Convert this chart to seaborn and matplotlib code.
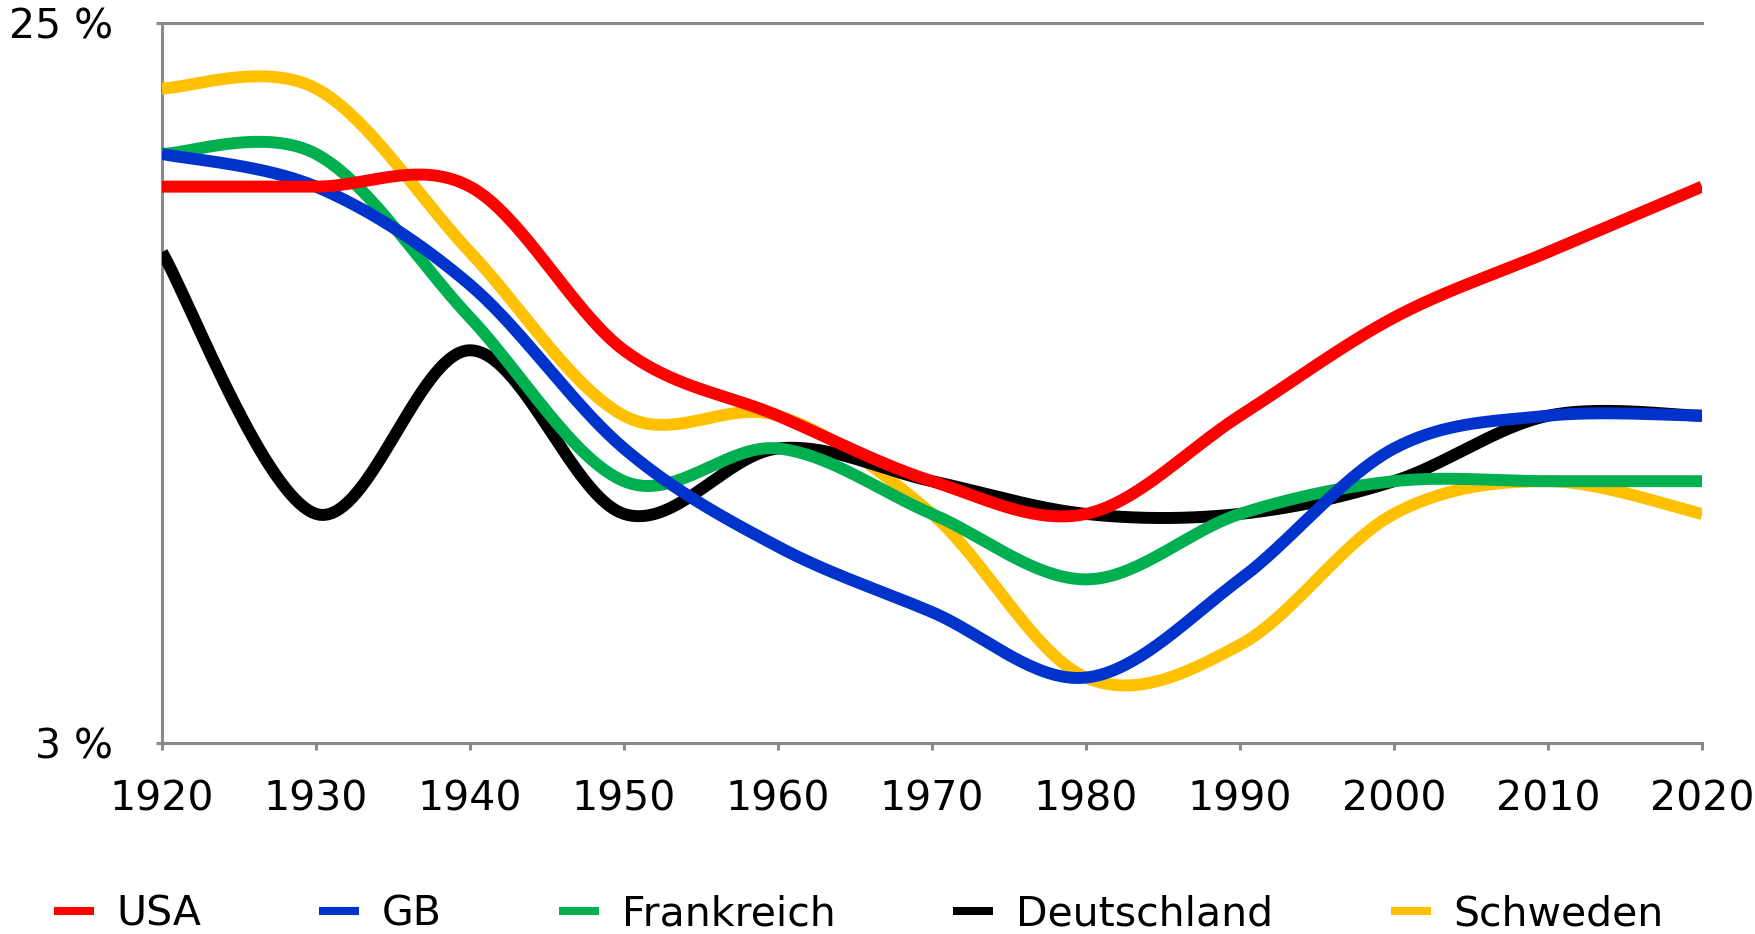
import numpy as np
import pandas as pd
import seaborn as sns
import matplotlib.pyplot as plt
from matplotlib.lines import Line2D

# values (percent)
years = [1920, 1930, 1940, 1950, 1960, 1970, 1980, 1990, 2000, 2010, 2020]
usa = [20, 20, 20, 15, 13, 11, 10, 13, 16, 18, 20]
gb = [21, 20, 17, 12, 9, 7, 5, 8, 12, 13, 13]
frankreich = [21, 21, 16, 11, 12, 10, 8, 10, 11, 11, 11]
deutschland = [18, 10, 15, 10, 12, 11, 10, 10, 11, 13, 13]
schweden = [23, 23, 18, 13, 13, 10, 5, 6, 10, 11, 10]

names = ['USA', 'GB', 'Frankreich', 'Deutschland', 'Schweden']
series = [usa, gb, frankreich, deutschland, schweden]
colors = ['#FF0000', '#0033CC', '#00B050', '#000000', '#FFC000']

y_ticks = [3, 25]
y_labels = ['3 %', '25 %']


def smooth(xs, ys, n=40):
    # Excel-style smoothed line: cubic Bezier per segment, tangents from neighbours
    p = np.column_stack([xs, ys]).astype(float)
    out = []
    for i in range(len(p) - 1):
        p0 = p[i - 1] if i > 0 else p[i]
        p1, p2 = p[i], p[i + 1]
        p3 = p[i + 2] if i + 2 < len(p) else p[i + 1]
        c1 = p1 + (p2 - p0) / 6
        c2 = p2 - (p3 - p1) / 6
        t = np.linspace(0, 1, n)[:, None]
        seg = ((1 - t) ** 3) * p1 + 3 * ((1 - t) ** 2) * t * c1 + 3 * (1 - t) * t ** 2 * c2 + t ** 3 * p2
        out.append(seg if i == 0 else seg[1:])
    out = np.vstack(out)
    return out[:, 0], out[:, 1]


sns.set_style('white')
plt.rcParams['font.family'] = ['DejaVu Sans']
plt.rcParams['text.color'] = 'black'
plt.rcParams['xtick.labelcolor'] = 'black'
plt.rcParams['ytick.labelcolor'] = 'black'

fig = plt.figure(figsize=(17.56, 9.34), dpi=100)
ax = fig.add_axes([162 / 1756, 1 - 743 / 934, 1540 / 1756, 720 / 934])

n = len(names)
for k, (name, vals, col) in enumerate(zip(names, series, colors)):
    sx, sy = smooth(years, vals)
    df = pd.DataFrame({'Jahr': sx, 'Anteil': sy})
    sns.lineplot(data=df, x='Jahr', y='Anteil', sort=False, estimator=None,
                 color=col, linewidth=8.6, ax=ax, zorder=10 + n - k,
                 solid_capstyle='butt', solid_joinstyle='round')

ax.set_xlim(1920, 2020)
ax.set_ylim(3, 25)
ax.set_xticks(years)
ax.set_yticks(y_ticks)
ax.set_yticklabels(y_labels)
ax.set_xlabel('')
ax.set_ylabel('')

grey = '#898989'
for side in ['left', 'bottom', 'top']:
    ax.spines[side].set_color(grey)
    ax.spines[side].set_linewidth(2.2)
ax.spines['right'].set_visible(False)
ax.tick_params(axis='x', direction='out', length=5, width=2.2, color=grey,
               labelsize=29.5, labelcolor='black', pad=21, bottom=True)
ax.tick_params(axis='y', direction='out', length=4.5, width=2.2, color=grey,
               labelsize=29.5, labelcolor='black', pad=31, left=True)

handles = [Line2D([0], [0], color=c, linewidth=5.8, solid_capstyle='butt') for c in colors]
leg = fig.legend(handles, names, loc='center left', bbox_to_anchor=(54 / 1756, 0.021),
                 bbox_transform=fig.transFigure, ncol=5, frameon=False, fontsize=29.5,
                 borderpad=0, borderaxespad=0, handlelength=0.98, handletextpad=0.54,
                 columnspacing=2.88)
for t in leg.get_texts():
    t.set_color('black')

fig.savefig('out.png', dpi=100)
